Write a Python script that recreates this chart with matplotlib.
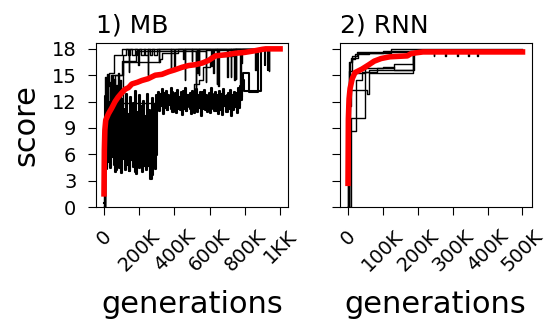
import matplotlib.pyplot as plt
import numpy as np

# all x values below are in thousands of generations

# ---- 1) MB ----
# two runs that keep oscillating (0-300K low band, then 300K-790K mid band)
mb_band_a_low = [0.5, 12.6, 4.3, 13.4, 5.1, 12.0, 4.6, 13.1, 5.8, 11.4,
                 4.0, 12.8, 5.3, 10.9, 4.4, 13.0, 3.9, 12.3, 5.6, 11.2,
                 4.2, 12.9, 4.8, 10.6, 4.1, 12.5, 5.4, 11.8, 4.5, 13.2,
                 3.8, 10.8, 4.9, 12.7, 5.2, 11.5, 4.0, 12.1, 5.9, 10.4,
                 4.4, 12.9, 4.7, 11.0, 3.2, 12.4, 5.0, 11.7, 4.3, 12.8]
mb_band_b_low = [9.5, 4.6, 8.6, 5.2, 9.8, 4.4, 8.1, 5.7, 9.2, 4.8,
                 7.9, 4.2, 9.6, 5.0, 8.4, 4.5, 9.9, 5.5, 8.0, 4.3,
                 9.3, 4.9, 8.7, 4.1, 10.2, 5.3, 7.8, 4.6, 9.0, 4.0,
                 8.5, 5.1, 9.7, 4.4, 8.2, 5.8, 9.4, 4.7, 10.0, 4.2,
                 8.8, 5.4, 7.7, 4.5, 9.1, 3.6, 8.3, 4.9, 9.6, 5.9]
mb_band_a_mid = [11.2, 13.1, 10.9, 12.7, 11.5, 13.4, 10.6, 12.9, 11.3, 13.2,
                 11.0, 12.6, 11.6, 13.5, 10.8, 12.8, 11.4, 13.0, 10.7, 13.3,
                 11.1, 12.5, 11.5, 13.1, 10.5, 12.9, 11.2, 13.6, 10.9, 12.7,
                 11.4, 13.0, 10.6, 13.2, 11.3, 12.6, 11.0, 13.4, 10.8, 12.8,
                 11.5, 13.1, 10.4, 12.9, 11.2, 13.3, 11.0, 12.6, 11.6, 13.0,
                 10.7, 13.5, 11.3, 12.8, 10.9, 13.1, 11.4, 12.7, 10.6, 13.2,
                 11.1, 12.9, 10.5, 13.4, 11.5, 12.6, 10.8, 13.0, 11.2, 13.3,
                 10.4, 12.8, 11.0, 13.1, 11.6, 12.9, 10.7, 13.5, 11.3, 13.8,
                 12.5, 14.4]
mb_band_b_mid = [12.4, 11.1, 12.9, 11.6, 12.2, 10.9, 13.0, 11.4, 12.6, 11.0,
                 12.8, 11.7, 12.3, 11.2, 13.1, 10.8, 12.5, 11.5, 12.9, 11.3,
                 12.1, 11.0, 12.7, 11.6, 13.2, 11.2, 12.4, 10.9, 12.8, 11.5,
                 12.3, 11.1, 13.0, 11.4, 12.6, 10.7, 12.9, 11.6, 12.2, 11.3,
                 12.7, 11.0, 13.1, 11.5, 12.4, 11.2, 12.8, 10.8, 12.5, 11.6,
                 13.0, 11.1, 12.3, 11.4, 12.9, 10.9, 12.6, 11.5, 12.2, 11.0,
                 12.8, 11.3, 13.1, 11.6, 12.4, 10.8, 12.7, 11.2, 12.9, 11.5,
                 12.3, 11.0, 12.6, 11.4, 13.0, 11.1, 12.8, 11.6, 13.4, 12.2,
                 14.2, 14.6]
mb_tail_a_x = [795, 890, 912, 914, 932, 934, 950]
mb_tail_a_y = [13.2, 18.0, 16.2, 18.0, 15.6, 18.0, 18.0]
mb_tail_b_x = [792, 822, 872, 950]
mb_tail_b_y = [15.2, 13.1, 18.0, 18.0]

# step-like runs
mb_up1_x = [0, 4, 10, 30, 55, 100, 140, 142, 195, 197, 250, 252, 310, 312, 380, 382,
            450, 452, 530, 532, 610, 612, 700, 702, 780, 782, 860, 862, 935, 937, 950]
mb_up1_y = [0.0, 9.0, 13.8, 15.2, 17.3, 18.0, 15.4, 18.0, 16.2, 18.0, 15.0, 18.0, 16.5, 18.0, 15.6, 18.0,
            16.8, 18.0, 15.2, 18.0, 16.0, 18.0, 14.8, 18.0, 16.4, 18.0, 15.6, 18.0, 15.5, 18.0, 18.0]
mb_up2_x = [0, 1.5, 7.5, 13.5, 19.5, 25.5, 31.5, 37.5, 43.5, 49.5, 55.5, 61.5, 67.5, 73.5, 79.5,
            85.5, 91.5, 97.5, 110, 125, 135, 150, 160, 175, 185, 200, 210, 225, 235, 250,
            260, 275, 285, 300, 312, 400, 402, 500, 502, 620, 622, 750, 752, 950]
mb_up2_y = [0.0, 9.0, 14.8, 11.2, 15.1, 10.0, 14.2, 12.3, 15.0, 10.5, 14.6, 11.8, 13.9, 10.2, 15.2,
            12.0, 14.4, 11.5, 17.3, 18.0, 17.3, 18.0, 17.3, 18.0, 17.3, 18.0, 17.3, 18.0, 17.3, 18.0,
            17.3, 18.0, 17.3, 18.0, 18.0, 15.8, 18.0, 16.6, 18.0, 15.3, 18.0, 14.6, 18.0, 18.0]
mb_up3_x = [0, 8, 40, 110, 320, 330, 420, 460, 462, 540, 542, 640, 642, 720, 722, 950]
mb_up3_y = [0.0, 11.0, 15.0, 16.5, 16.9, 17.5, 18.0, 14.5, 18.0, 15.0, 18.0, 14.0, 18.0, 14.8, 18.0, 18.0]
mb_up4_x = [0, 6, 20, 90, 300, 510, 540, 565, 600, 735, 950]
mb_up4_y = [0.0, 8.0, 10.5, 11.8, 12.2, 14.0, 14.4, 15.9, 17.2, 18.0, 18.0]
mb_up5_x = [0, 5, 25, 60, 100, 180, 520, 522, 580, 582, 650, 652, 740, 742, 775, 777, 950]
mb_up5_y = [0.0, 10.5, 14.0, 15.0, 16.6, 17.8, 13.5, 17.8, 14.2, 17.9, 13.8, 17.9, 14.5, 18.0, 13.6, 18.0, 18.0]

mb_mean_x = [0, 2, 5, 10, 25, 45, 63, 80, 101, 120, 140, 158, 190, 215, 250, 291,
             329, 367, 400, 443, 480, 519, 560, 595, 633, 700, 747, 800, 861, 900, 918, 1000]
mb_mean_y = [1.5, 6.5, 8.8, 9.9, 10.6, 11.3, 12.0, 12.5, 13.0, 13.4, 13.6, 14.0, 14.2, 14.4, 14.6, 15.0,
             15.1, 15.4, 15.6, 15.9, 16.1, 16.2, 16.4, 16.7, 17.2, 17.35, 17.5, 17.6, 17.8, 17.95, 18.0, 18.0]

# ---- 2) RNN ----
rnn_runs = [
    ([0, 3, 22, 40, 60, 190, 500], [0.0, 8.65, 14.4, 15.4, 15.6, 17.65, 17.65]),
    ([0, 8, 50, 84, 131, 185, 500], [0.0, 10.1, 15.4, 15.8, 16.3, 17.65, 17.65]),
    ([0, 2, 8, 55, 60, 185, 245, 247, 279, 281, 313, 315, 345, 347, 370, 372, 500],
     [0.0, 11.5, 13.3, 12.9, 15.3, 17.65, 17.2, 17.65, 17.2, 17.65, 17.2, 17.65, 17.2, 17.65, 17.2, 17.65, 17.65]),
    ([0, 2, 5, 12, 27, 179, 500], [0.0, 12.0, 16.5, 17.2, 17.6, 17.8, 17.8]),
    ([0, 1, 4, 10, 20, 60, 122, 500], [0.0, 13.0, 15.5, 16.8, 17.4, 17.5, 18.0, 18.0]),
    ([0, 2, 6, 15, 50, 100, 131, 185, 500], [0.0, 10.0, 14.5, 15.2, 15.8, 15.9, 15.6, 17.65, 17.65]),
    ([0, 1, 3, 8, 30, 100, 500], [0.0, 12.5, 16.5, 17.0, 17.5, 17.7, 17.7]),
]
rnn_mean_x = [0, 1, 3, 6, 12, 20, 40, 60, 75, 95, 120, 170, 180, 195, 215, 500]
rnn_mean_y = [2.7, 10.0, 12.3, 13.5, 14.6, 15.3, 15.7, 16.2, 16.6, 16.9, 17.1, 17.2, 17.45, 17.55, 17.65, 17.65]

yticks = [0, 3, 6, 9, 12, 15, 18]
mb_xticks = [0, 200, 400, 600, 800, 1000]
mb_xlabels = ['0', '200K', '400K', '600K', '800K', '1KK']
rnn_xticks = [0, 100, 200, 300, 400, 500]
rnn_xlabels = ['0', '100K', '200K', '300K', '400K', '500K']

K = 1000.0
lw_run = 1.0

fig, axes = plt.subplots(1, 2, figsize=(5.48, 3.22), dpi=100, sharey=True)
plt.subplots_adjust(left=0.175, right=0.970, bottom=0.357, top=0.866, wspace=0.27)

ax = axes[0]
xa = np.concatenate([np.arange(0, 300, 6), np.arange(300, 790, 6), mb_tail_a_x])
ya = np.concatenate([mb_band_a_low, mb_band_a_mid, mb_tail_a_y])
xb = np.concatenate([np.arange(3, 300, 6), np.arange(303, 790, 6), mb_tail_b_x])
yb = np.concatenate([mb_band_b_low, mb_band_b_mid, mb_tail_b_y])
for x, y in [(xa, ya), (xb, yb)]:
    ax.plot(x * K, y, c='k', lw=1.5, drawstyle='steps-post')
for x, y in [(mb_up1_x, mb_up1_y), (mb_up2_x, mb_up2_y),
             (mb_up3_x, mb_up3_y), (mb_up4_x, mb_up4_y), (mb_up5_x, mb_up5_y)]:
    ax.plot(np.array(x) * K, y, c='k', lw=lw_run, drawstyle='steps-post')
ax.plot(np.array(mb_mean_x) * K, mb_mean_y, c='r', lw=4)
ax.set_xlim(-46000, 1044000)
ax.set_xticks(np.array(mb_xticks) * K)
ax.set_xticklabels(mb_xlabels, rotation=45)
ax.set_title('1) MB', loc='left', fontsize=18, pad=8)
ax.set_ylabel('score', fontsize=22, labelpad=8)

ax = axes[1]
for x, y in rnn_runs:
    ax.plot(np.array(x) * K, y, c='k', lw=lw_run, drawstyle='steps-post')
ax.plot(np.array(rnn_mean_x) * K, rnn_mean_y, c='r', lw=4)
ax.set_xlim(-24000, 526000)
ax.set_xticks(np.array(rnn_xticks) * K)
ax.set_xticklabels(rnn_xlabels, rotation=45)
ax.set_title('2) RNN', loc='left', fontsize=18, pad=8)

for ax in axes:
    ax.set_ylim(0, 18.65)
    ax.set_yticks(yticks)
    ax.set_xlabel('generations', fontsize=22, labelpad=11)
    ax.tick_params(labelsize=14, length=6, pad=8)

plt.savefig('out.png', dpi=100)
plt.close()
